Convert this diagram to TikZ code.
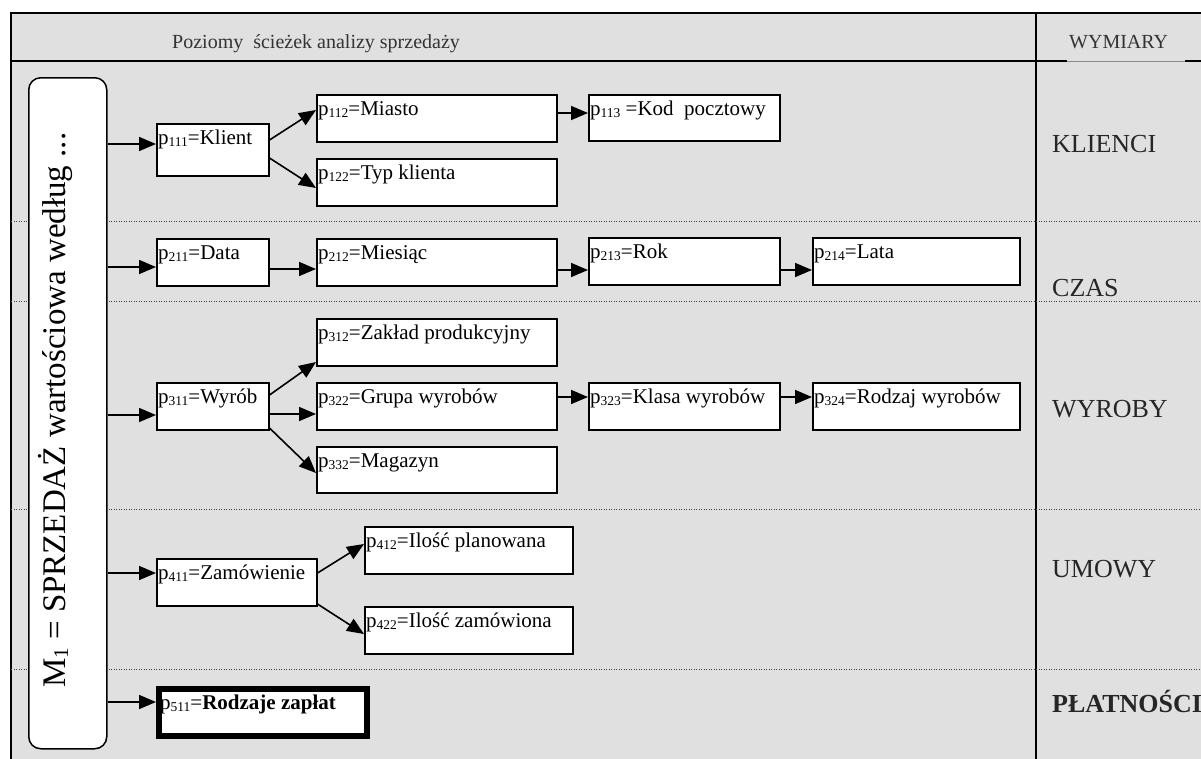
\documentclass[tikz,border=0pt]{standalone}
\usepackage{fontspec}
\setmainfont{Liberation Serif}
\usetikzlibrary{arrows.meta}
% small lowered index digits of a level name
\newcommand{\sbs}[1]{\raisebox{-2.5pt}{\fontsize{13.5}{13.5}\selectfont #1}}
% level box: name, x1, y1, x2, y2, index, caption
\newcommand{\lvlbox}[7]{%
  \node[lvl, minimum width=#4-#2, minimum height=#5-#3] (#1) at (#2,#3) {};
  \node[lvltext] (#1t) at (#2+2,#3+21) {p\sbs{#6}=#7};}
\begin{document}
\begin{tikzpicture}[x=1pt,y=-1pt,
  lvl/.style={draw=black, line width=1.5pt, fill=white, rectangle, inner sep=0pt, anchor=north west},
  lvltext/.style={anchor=base west, inner sep=0pt, font=\fontsize{21}{21}\selectfont},
  arr/.style={line width=1.6pt, -{Triangle[length=17pt,width=14pt]}},
  sepline/.style={black!75, line width=1pt, dash pattern=on 1pt off 1.5pt},
  dimlabel/.style={anchor=base west, inner sep=0pt, text=black!85, font=\fontsize{26}{26}\selectfont},
  headtext/.style={anchor=base west, inner sep=0pt, text=black!80, font=\fontsize{20}{20}\selectfont},
  ]
\useasboundingbox (0,0) rectangle (1201,758);
\clip (0,0) rectangle (1201,758);

% shaded panel
\fill[black!12] (11,13) rectangle (1220,770);

% frame, header rule and column divider
\draw[line width=1.5pt] (11,770) -- (11,13) -- (1220,13);
\draw[line width=1.2pt] (11,61) -- (1067,61);
\draw[black!45, line width=0.6pt] (1067,61) -- (1185,61);
\draw[line width=1.2pt] (1185,61) -- (1220,61);
\draw[line width=1.2pt] (1036,13) -- (1036,770);

% dotted row separators
\foreach \yy in {221,301,509,669}
  \draw[sepline] (11,\yy) -- (1220,\yy);

% header
\node[headtext] (title) at (172,48) {Poziomy\ \ ścieżek analizy sprzedaży};
\node[headtext] (dims) at (1069,48) {WYMIARY};

% dimension names
\node[dimlabel] (dK) at (1052,152) {KLIENCI};
\node[dimlabel] (dC) at (1052,296) {CZAS};
\node[dimlabel] (dW) at (1052,417) {WYROBY};
\node[dimlabel] (dU) at (1052,577) {UMOWY};
\node[dimlabel, font=\fontsize{26}{26}\selectfont\bfseries] (dP) at (1052,712) {PŁATNOŚCI};

% measure box
\node[draw=black, line width=1.5pt, fill=white, rounded corners=12pt, inner sep=0pt,
      minimum width=78, minimum height=671, anchor=north west] (M) at (28,77) {};
\node[rotate=90, anchor=base west, inner sep=0pt, font=\fontsize{33}{33}\selectfont] (Mt)
  at (65,688) {M\raisebox{-3pt}{\fontsize{21}{21}\selectfont 1} = SPRZEDAŻ wartościowa według ...};

% level boxes
\lvlbox{K1}{156}{123}{268}{175}{111}{Klient}
\lvlbox{K2}{316}{94}{556}{141}{112}{Miasto}
\node[lvl, minimum width=191, minimum height=46] (K3) at (588,94) {};
\node[lvltext] (K3t) at (590,115) {p\sbs{113} =Kod\ \ pocztowy};
\lvlbox{K4}{316}{158}{556}{205}{122}{Typ klienta}

\lvlbox{C1}{156}{238}{268}{285}{211}{Data}
\lvlbox{C2}{316}{238}{556}{285}{212}{Miesiąc}
\lvlbox{C3}{588}{237}{779}{284}{213}{Rok}
\lvlbox{C4}{812}{237}{1019}{284}{214}{Lata}

\lvlbox{W1}{156}{382}{268}{429}{311}{Wyrób}
\lvlbox{W2}{316}{318}{556}{365}{312}{Zakład produkcyjny}
\lvlbox{W3}{316}{382}{556}{429}{322}{Grupa wyrobów}
\lvlbox{W4}{588}{382}{779}{429}{323}{Klasa wyrobów}
\lvlbox{W5}{812}{382}{1019}{429}{324}{Rodzaj wyrobów}
\lvlbox{W6}{316}{446}{556}{492}{332}{Magazyn}

\lvlbox{U1}{156}{558}{316}{605}{411}{Zamówienie}
\lvlbox{U2}{364}{526}{572}{573}{412}{Ilość planowana}
\lvlbox{U3}{364}{606}{572}{653}{422}{Ilość zamówiona}

\node[lvl, line width=6pt, minimum width=208, minimum height=47] (P1) at (156,686) {};
\node[lvltext] (P1t) at (160,709) {p\sbs{511}=\textbf{Rodzaje zapłat}};

% from the measure to the first level of each dimension
\draw[arr] (M.east |- 0,144) -- (K1.west |- 0,144);
\draw[arr] (M.east |- 0,267) -- (C1.west |- 0,267);
\draw[arr] (M.east |- 0,415) -- (W1.west |- 0,415);
\draw[arr] (M.east |- 0,573) -- (U1.west |- 0,573);
\draw[arr] (M.east |- 0,702) -- (P1.west |- 0,702);

% KLIENCI paths
\draw[arr] (K1.east |- 0,140) -- (K2.west |- 0,110);
\draw[arr] (K1.east |- 0,158) -- (K4.west |- 0,188);
\draw[arr] (K2.east |- 0,113) -- (K3.west |- 0,113);

% CZAS path
\draw[arr] (C1.east |- 0,269) -- (C2.west |- 0,269);
\draw[arr] (C2.east |- 0,270) -- (C3.west |- 0,270);
\draw[arr] (C3.east |- 0,270) -- (C4.west |- 0,270);

% WYROBY paths
\draw[arr] (W1.east |- 0,395) -- (W2.west |- 0,362);
\draw[arr] (W1.east |- 0,414) -- (W3.west |- 0,414);
\draw[arr] (W1.east |- 0,428) -- (W6.west |- 0,473);
\draw[arr] (W3.east |- 0,397) -- (W4.west |- 0,397);
\draw[arr] (W4.east |- 0,397) -- (W5.west |- 0,397);

% UMOWY paths
\draw[arr] (U1.east |- 0,573) -- (U2.west |- 0,544);
\draw[arr] (U1.east |- 0,604) -- (U3.west |- 0,634);
\end{tikzpicture}
\end{document}
